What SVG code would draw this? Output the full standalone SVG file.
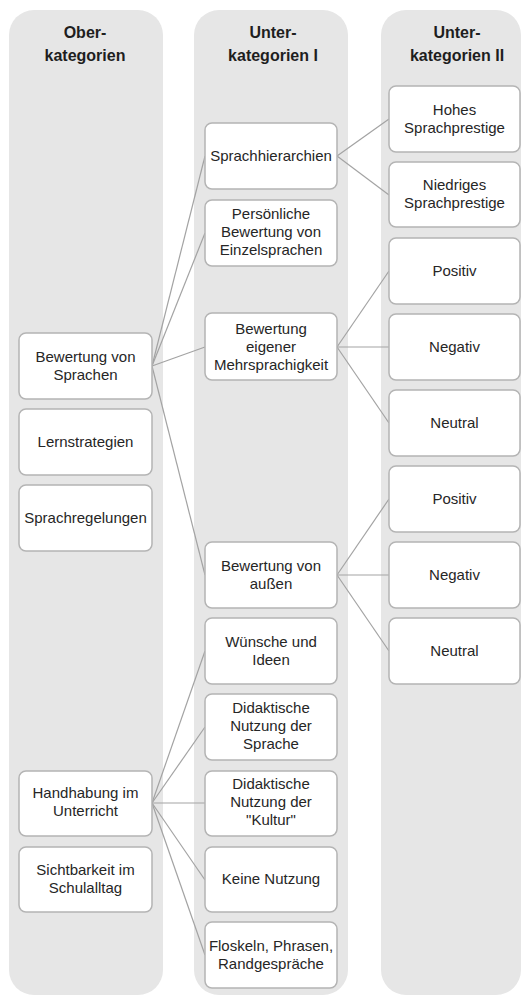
<svg xmlns="http://www.w3.org/2000/svg" width="521" height="996" viewBox="0 0 521 996">
<style>
.col{fill:#e6e6e6}
.box{fill:#fff;stroke:#b4b4b4;stroke-width:1.5}
.hd{font-family:"Liberation Sans",Arial,sans-serif;font-size:16px;font-weight:bold;fill:#1e1e1e;text-anchor:middle}
.t{font-family:"Liberation Sans",Arial,sans-serif;font-size:15px;fill:#262626;text-anchor:middle}
.c line{stroke:#a3a3a3;stroke-width:1.2}
</style>
<g id="columns">
<rect class="col" x="9" y="10" width="154" height="985" rx="25"/>
<rect class="col" x="194" y="10" width="154" height="985" rx="25"/>
<rect class="col" x="381" y="10" width="140" height="985" rx="25"/>
<text class="hd" x="85" y="38">Ober-</text>
<text class="hd" x="85" y="61">kategorien</text>
<text class="hd" x="273" y="38">Unter-</text>
<text class="hd" x="273" y="61">kategorien I</text>
<text class="hd" x="457" y="38">Unter-</text>
<text class="hd" x="457" y="61">kategorien II</text>
</g>
<g id="connectors" class="c">
<line x1="152" y1="366" x2="205" y2="156"/>
<line x1="152" y1="366" x2="205" y2="233"/>
<line x1="152" y1="366" x2="205" y2="347"/>
<line x1="152" y1="366" x2="205" y2="575"/>
<line x1="337" y1="156" x2="389" y2="119"/>
<line x1="337" y1="156" x2="389" y2="195"/>
<line x1="337" y1="347" x2="389" y2="271"/>
<line x1="337" y1="347" x2="389" y2="347"/>
<line x1="337" y1="347" x2="389" y2="423"/>
<line x1="337" y1="575" x2="389" y2="499"/>
<line x1="337" y1="575" x2="389" y2="575"/>
<line x1="337" y1="575" x2="389" y2="651"/>
<line x1="152" y1="803" x2="205" y2="651"/>
<line x1="152" y1="803" x2="205" y2="727"/>
<line x1="152" y1="803" x2="205" y2="803"/>
<line x1="152" y1="803" x2="205" y2="880"/>
<line x1="152" y1="803" x2="205" y2="955"/>
</g>
<g id="n-bewertung-sprachen"><rect class="box" x="19" y="333" width="133" height="66" rx="7"/><text class="t" x="85.5" y="362">Bewertung von</text><text class="t" x="85.5" y="380">Sprachen</text></g>
<g id="n-lernstrategien"><rect class="box" x="19" y="409" width="133" height="66" rx="7"/><text class="t" x="85.5" y="447">Lernstrategien</text></g>
<g id="n-sprachregelungen"><rect class="box" x="19" y="485" width="133" height="66" rx="7"/><text class="t" x="85.5" y="523">Sprachregelungen</text></g>
<g id="n-handhabung"><rect class="box" x="19" y="771" width="133" height="65" rx="7"/><text class="t" x="85.5" y="798">Handhabung im</text><text class="t" x="85.5" y="816">Unterricht</text></g>
<g id="n-sichtbarkeit"><rect class="box" x="19" y="847" width="133" height="65" rx="7"/><text class="t" x="85.5" y="875">Sichtbarkeit im</text><text class="t" x="85.5" y="893">Schulalltag</text></g>

<g id="n-sprachhierarchien"><rect class="box" x="205" y="123" width="132" height="66" rx="7"/><text class="t" x="271" y="161">Sprachhierarchien</text></g>
<g id="n-persoenliche"><rect class="box" x="205" y="200" width="132" height="66" rx="7"/><text class="t" x="271" y="219">Persönliche</text><text class="t" x="271" y="237">Bewertung von</text><text class="t" x="271" y="255">Einzelsprachen</text></g>
<g id="n-eigene"><rect class="box" x="205" y="313" width="132" height="67" rx="7"/><text class="t" x="271" y="334">Bewertung</text><text class="t" x="271" y="352">eigener</text><text class="t" x="271" y="370">Mehrsprachigkeit</text></g>
<g id="n-aussen"><rect class="box" x="205" y="542" width="132" height="66" rx="7"/><text class="t" x="271" y="571">Bewertung von</text><text class="t" x="271" y="589">außen</text></g>
<g id="n-wuensche"><rect class="box" x="205" y="618" width="132" height="66" rx="7"/><text class="t" x="271" y="647">Wünsche und</text><text class="t" x="271" y="665">Ideen</text></g>
<g id="n-didaktik-sprache"><rect class="box" x="205" y="694" width="132" height="66" rx="7"/><text class="t" x="271" y="713">Didaktische</text><text class="t" x="271" y="731">Nutzung der</text><text class="t" x="271" y="749">Sprache</text></g>
<g id="n-didaktik-kultur"><rect class="box" x="205" y="771" width="132" height="65" rx="7"/><text class="t" x="271" y="789">Didaktische</text><text class="t" x="271" y="807">Nutzung der</text><text class="t" x="271" y="825">"Kultur"</text></g>
<g id="n-keine"><rect class="box" x="205" y="847" width="132" height="65" rx="7"/><text class="t" x="271" y="884">Keine Nutzung</text></g>
<g id="n-floskeln"><rect class="box" x="205" y="922" width="132" height="66" rx="7"/><text class="t" x="271" y="951">Floskeln, Phrasen,</text><text class="t" x="271" y="969">Randgespräche</text></g>

<g id="n-hohes"><rect class="box" x="389" y="86" width="131" height="66" rx="7"/><text class="t" x="454.5" y="115">Hohes</text><text class="t" x="454.5" y="133">Sprachprestige</text></g>
<g id="n-niedriges"><rect class="box" x="389" y="162" width="131" height="65" rx="7"/><text class="t" x="454.5" y="190">Niedriges</text><text class="t" x="454.5" y="208">Sprachprestige</text></g>
<g id="n-pos1"><rect class="box" x="389" y="238" width="131" height="66" rx="7"/><text class="t" x="454.5" y="276">Positiv</text></g>
<g id="n-neg1"><rect class="box" x="389" y="314" width="131" height="66" rx="7"/><text class="t" x="454.5" y="352">Negativ</text></g>
<g id="n-neu1"><rect class="box" x="389" y="390" width="131" height="66" rx="7"/><text class="t" x="454.5" y="428">Neutral</text></g>
<g id="n-pos2"><rect class="box" x="389" y="466" width="131" height="66" rx="7"/><text class="t" x="454.5" y="504">Positiv</text></g>
<g id="n-neg2"><rect class="box" x="389" y="542" width="131" height="66" rx="7"/><text class="t" x="454.5" y="580">Negativ</text></g>
<g id="n-neu2"><rect class="box" x="389" y="618" width="131" height="66" rx="7"/><text class="t" x="454.5" y="656">Neutral</text></g>
</svg>
